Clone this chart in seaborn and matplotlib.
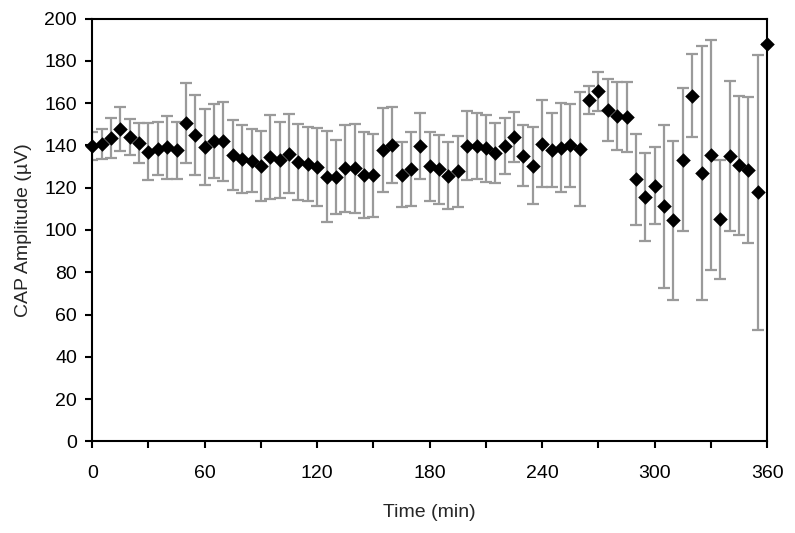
import numpy as np
import pandas as pd
import matplotlib
matplotlib.use("Agg")
import matplotlib.pyplot as plt
import seaborn as sns

# time points (min), one every 5 min
time_min = list(range(0, 365, 5))

# mean CAP amplitude (uV)
cap_mean = [
    139.7, 140.8, 143.5, 147.9, 144.0, 141.2, 137.0, 138.5, 139.1, 137.7,
    150.6, 144.8, 139.1, 141.9, 141.9, 135.3, 133.6, 132.8, 130.4, 134.5,
    133.1, 136.1, 132.3, 131.4, 129.9, 125.2, 125.1, 129.1, 129.1, 126.2,
    125.8, 137.8, 140.0, 126.2, 128.8, 139.9, 130.1, 128.8, 125.7, 127.7,
    139.9, 139.9, 138.6, 136.4, 139.6, 144.1, 135.1, 130.4, 140.8, 138.0,
    138.9, 140.0, 138.5, 161.5, 165.6, 156.8, 153.9, 153.5, 123.9, 115.7,
    120.9, 111.3, 104.5, 133.3, 163.5, 127.0, 135.6, 105.0, 134.8, 130.6,
    128.4, 117.8, 188.0,
]

# error bar half-widths (uV)
cap_err = [
    6.5, 7.0, 9.3, 10.5, 8.5, 9.5, 13.5, 12.5, 14.8, 13.4,
    19.0, 19.0, 18.0, 17.5, 18.8, 16.6, 16.0, 15.0, 16.6, 20.0,
    18.0, 18.6, 18.0, 17.5, 18.5, 21.5, 17.4, 20.8, 21.0, 20.3,
    19.5, 19.7, 18.0, 15.4, 17.6, 15.6, 16.2, 16.3, 16.0, 17.0,
    16.3, 15.6, 16.0, 14.0, 13.3, 11.7, 14.4, 18.3, 20.5, 17.5,
    21.0, 19.8, 27.0, 6.4, 9.3, 14.5, 16.0, 16.7, 21.5, 20.8,
    18.2, 38.6, 37.5, 34.0, 19.7, 60.0, 54.4, 28.0, 35.5, 33.0,
    34.6, 65.0, 0.0,
]

x_ticks = [0, 60, 120, 180, 240, 300, 360]
y_ticks = [0, 20, 40, 60, 80, 100, 120, 140, 160, 180, 200]

df = pd.DataFrame({"time": time_min, "cap": cap_mean, "err": cap_err})

sns.set_theme(style="ticks")
plt.rcParams["font.family"] = ["Liberation Sans", "DejaVu Sans"]

fig, ax = plt.subplots(figsize=(7.95, 5.33), dpi=100)
fig.subplots_adjust(left=0.116, right=0.965, top=0.965, bottom=0.172)

ax.errorbar(df["time"], df["cap"], yerr=df["err"], fmt="none",
            ecolor="#9a9a9a", elinewidth=1.6, capsize=4, capthick=1.6, zorder=2)
sns.scatterplot(data=df, x="time", y="cap", marker="D", color="black",
                s=55, edgecolor="black", linewidth=0, ax=ax, zorder=3,
                clip_on=False)

ax.set_xlim(0, 360)
ax.set_ylim(0, 200)
ax.set_xticks(x_ticks)
ax.set_xticks(range(30, 360, 60), minor=True)
ax.set_yticks(y_ticks)

for s in ax.spines.values():
    s.set_color("black")
    s.set_linewidth(1.5)

ax.tick_params(axis="both", which="both", direction="out", length=5,
               width=1.5, color="black", labelsize=14, colors="black")
ax.tick_params(axis="x", which="minor", labelbottom=False)
ax.tick_params(axis="x", pad=12)
ax.tick_params(axis="y", pad=6)

ax.set_xlabel("Time (min)", fontsize=14, labelpad=16)
ax.set_ylabel("CAP Amplitude (µV)", fontsize=14, labelpad=9)

plt.savefig("out.png", dpi=100)
